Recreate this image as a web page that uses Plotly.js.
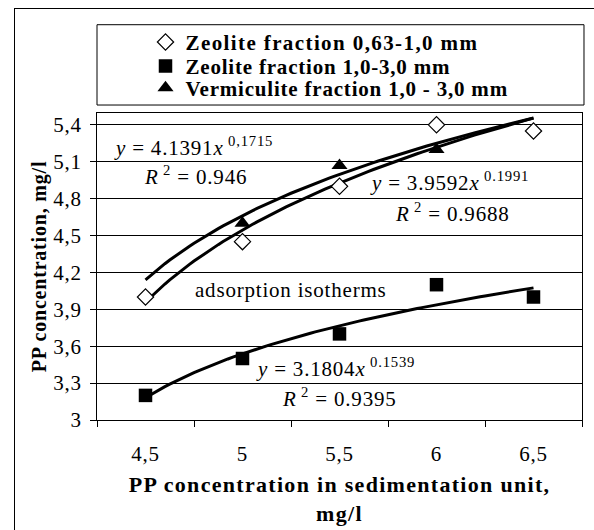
<!DOCTYPE html>
<html>
<head>
<meta charset="utf-8">
<script src="https://cdn.plot.ly/plotly-3.0.1.min.js"></script>
<style>
  html, body { margin: 0; padding: 0; background: #fff; overflow: hidden; }
  #wrap { position: relative; width: 594px; height: 530px; overflow: hidden; }
  #frame { position: absolute; left: 14px; top: 8px; width: 620px; height: 600px; border: 1px solid #000; box-sizing: border-box; }
  #chart { position: absolute; left: 0; top: 0; width: 594px; height: 530px; }
  text { letter-spacing: 0.8px; }
  .legendtext { letter-spacing: 1.4px; }
  .g-xtitle text { letter-spacing: 1.3px; }
</style>
</head>
<body>
<div id="wrap">
  <div id="frame"></div>
  <div id="chart"></div>
</div>
<script>
// ---- data ----
const xCats = [4.5, 5, 5.5, 6, 6.5];
const xTickText = ['4,5', '5', '5,5', '6', '6,5'];
const zeoliteFine = [4.0, 4.45, 4.9, 5.4, 5.35];      // Zeolite 0,63-1,0 mm
const zeoliteCoarse = [3.2, 3.5, 3.7, 4.1, 4.0];      // Zeolite 1,0-3,0 mm
const vermiculite = [null, 4.6, 5.07, 5.2, null];     // Vermiculite 1,0-3,0 mm
const seriesNames = [
  'Zeolite fraction 0,63-1,0 mm',
  'Zeolite fraction 1,0-3,0 mm',
  'Vermiculite fraction 1,0 - 3,0 mm'
];
// power trend lines y = a * k^b (k = category index 1..5), as printed on the chart
const trendA = [3.9592, 3.1804, 4.1391];
const trendB = [0.1991, 0.1539, 0.1715];

const FONT = 'Liberation Serif';

function trend(a, b) {
  const xs = [], ys = [];
  for (let i = 0; i <= 80; i++) {
    const k = 1 + i * 0.05;
    xs.push(xCats[0] + (k - 1) * (xCats[1] - xCats[0]));
    ys.push(a * Math.pow(k, b));
  }
  return {x: xs, y: ys};
}

const traces = [];
for (let i = 0; i < 3; i++) {
  const t = trend(trendA[i], trendB[i]);
  traces.push({x: t.x, y: t.y, mode: 'lines', line: {color: '#000', width: 3}, showlegend: false, hoverinfo: 'skip'});
}
traces.push({x: xCats, y: zeoliteFine, mode: 'markers', name: seriesNames[0], legend: 'legend',
  marker: {symbol: 'diamond', size: 12.5, color: '#fff', line: {color: '#000', width: 1.2}}});
traces.push({x: xCats, y: zeoliteCoarse, mode: 'markers', name: seriesNames[1], legend: 'legend2',
  marker: {symbol: 'square', size: 13.5, color: '#000', line: {color: '#000', width: 0}}});
traces.push({x: xCats, y: vermiculite, mode: 'markers', name: seriesNames[2], legend: 'legend3',
  marker: {symbol: 'triangle-up', size: 14, color: '#000', line: {color: '#000', width: 0}}});

const legBase = {x: 0.1, xanchor: 'left', yanchor: 'middle', bgcolor: 'rgba(0,0,0,0)', borderwidth: 0,
  font: {family: FONT, size: 21, color: '#000', weight: 'bold'}};

const annFont = {family: FONT, size: 21, color: '#000'};
function ann(text, x, y) {
  return {text: text, x: x, y: y, xref: 'x', yref: 'y', xanchor: 'left', yanchor: 'middle', showarrow: false, font: annFont};
}

const layout = {
  width: 594, height: 530,
  margin: {l: 97, r: 12, t: 113, b: 110},
  paper_bgcolor: 'rgba(0,0,0,0)', plot_bgcolor: '#fff',
  font: {family: FONT, size: 21, color: '#000'},
  separators: ', ',
  xaxis: {
    range: [4.25, 6.75], tickvals: xCats, ticktext: xTickText,
    ticks: 'outside', ticklen: 6, tickcolor: 'rgba(0,0,0,0)', ticklabelstandoff: 9,
    minor: {tick0: 4.25, dtick: 0.5, ticks: 'outside', ticklen: 6, tickcolor: '#000', tickwidth: 1, showgrid: false},
    showline: true, linecolor: '#000', linewidth: 1, mirror: true,
    showgrid: false, zeroline: false,
    tickfont: {family: FONT, size: 21, color: '#000'},
    title: {text: 'PP concentration in sedimentation unit,<br>mg/l', standoff: 11,
      font: {family: FONT, size: 22, color: '#000', weight: 'bold'}}
  },
  yaxis: {
    range: [3, 5.496], tick0: 3, dtick: 0.3,
    ticks: 'outside', ticklen: 6, tickcolor: '#000', ticklabelstandoff: 4,
    showgrid: true, gridcolor: '#000', gridwidth: 1,
    showline: true, linecolor: '#000', linewidth: 1, mirror: true,
    zeroline: false,
    tickfont: {family: FONT, size: 21, color: '#000'},
    title: {text: 'PP concentration, mg/l', standoff: 1,
      font: {family: FONT, size: 20, color: '#000', weight: 'bold'}}
  },
  legend: Object.assign({}, legBase, {y: 1.23}),
  legend2: Object.assign({}, legBase, {y: 1.1518}),
  legend3: Object.assign({}, legBase, {y: 1.0814}),
  shapes: [{type: 'rect', xref: 'paper', yref: 'paper', x0: 0, x1: 1.0041, y0: 1.026, y1: 1.2876,
    line: {color: '#000', width: 1}, fillcolor: 'rgba(0,0,0,0)'}],
  annotations: [
    ann('<i>y</i> = 4.1391<i>x</i><sup> 0,1715</sup>', 4.326, 5.224),
    ann('<i>R</i><sup> 2</sup> = 0.946', 4.480, 4.986),
    ann('<i>y</i> = 3.9592<i>x</i><sup> 0.1991</sup>', 5.647, 4.940),
    ann('<i>R</i><sup> 2</sup> = 0.9688', 5.777, 4.688),
    ann('<i>y</i> = 3.1804<i>x</i><sup> 0.1539</sup>', 5.059, 3.425),
    ann('<i>R</i><sup> 2</sup> = 0.9395', 5.193, 3.181),
    ann('adsorption isotherms', 4.745, 4.054)
  ]
};

Plotly.newPlot('chart', traces, layout, {displayModeBar: false, staticPlot: true});
</script>
</body>
</html>
